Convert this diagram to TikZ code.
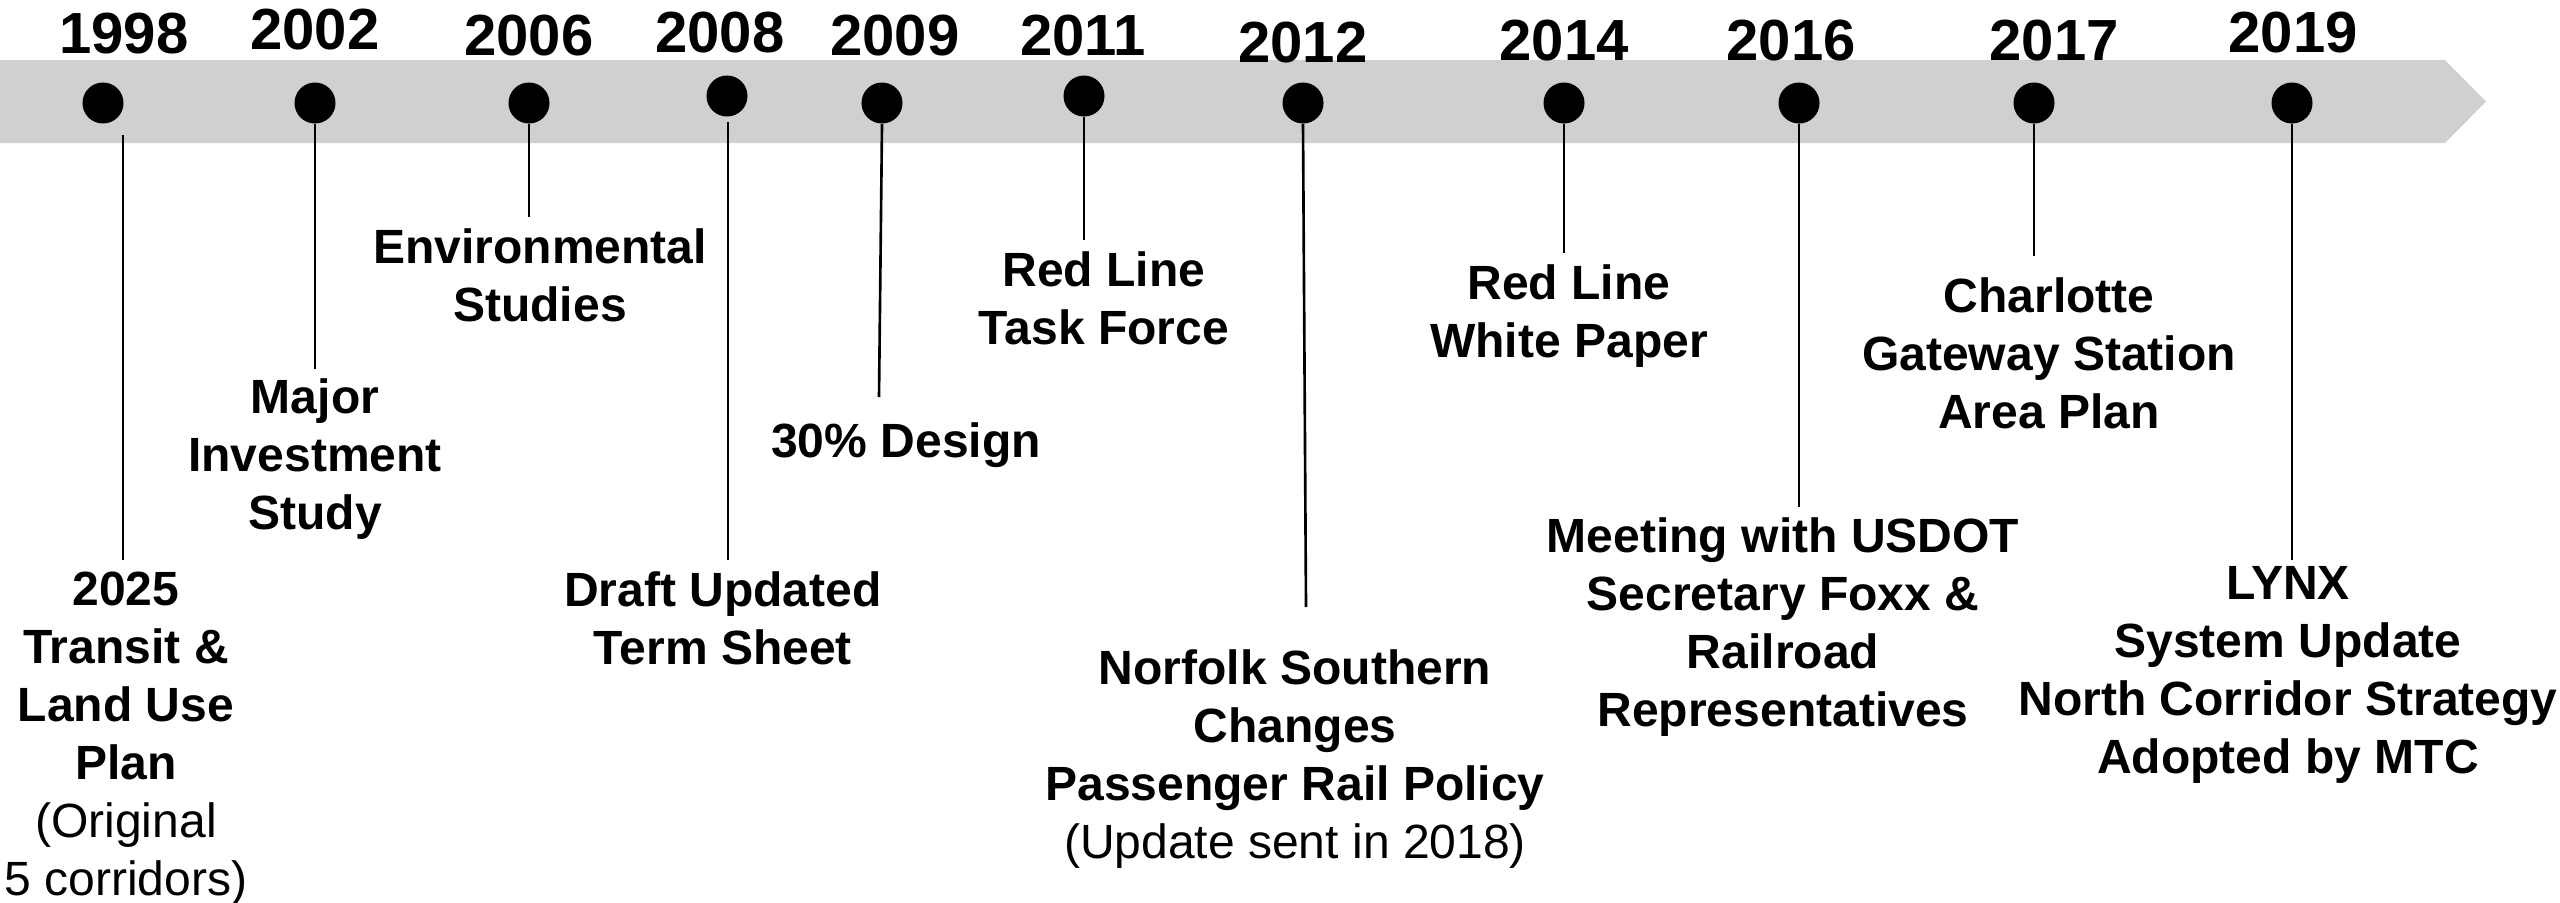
\documentclass[tikz,border=0pt]{standalone}
\usepackage{fontspec}
\setmainfont{Liberation Sans}
\definecolor{bandgray}{RGB}{208,208,208}
\begin{document}
\begin{tikzpicture}[x=0.01cm, y=-0.01cm,
  band/.style={fill=bandgray, draw=none},
  dot/.style={circle, fill=black, inner sep=0pt, minimum size=0.41cm},
  year/.style={inner sep=0pt, font=\fontsize{16.5}{19}\selectfont\bfseries},
  event/.style={inner sep=0pt, anchor=north, align=center,
    font=\fontsize{13.66}{16.5}\selectfont\bfseries},
  stem/.style={line width=0.75pt, black}]

\useasboundingbox (0,0) rectangle (2560,902);

% arrow-shaped time band
\fill[band] (0,60) -- (2445,60) -- (2486,101.5) -- (2445,143) -- (0,143) -- cycle;

% years
\node[year] (y1998) at (124,34) {1998};
\node[year] (y2002) at (315,30) {2002};
\node[year] (y2006) at (529,36) {2006};
\node[year] (y2008) at (720,33) {2008};
\node[year] (y2009) at (895,36) {2009};
\node[year] (y2011) at (1083,36) {2011};
\node[year] (y2012) at (1303,43) {2012};
\node[year] (y2014) at (1564,41) {2014};
\node[year] (y2016) at (1791,41) {2016};
\node[year] (y2017) at (2054,41) {2017};
\node[year] (y2019) at (2293,33) {2019};

% milestone dots
\node[dot] (d1998) at (103,103) {};
\node[dot] (d2002) at (315,103) {};
\node[dot] (d2006) at (529,103) {};
\node[dot] (d2008) at (727,96) {};
\node[dot] (d2009) at (882,103) {};
\node[dot] (d2011) at (1084,96) {};
\node[dot] (d2012) at (1303,103) {};
\node[dot] (d2014) at (1564,103) {};
\node[dot] (d2016) at (1799,103) {};
\node[dot] (d2017) at (2034,103) {};
\node[dot] (d2019) at (2292,103) {};

% event descriptions
\node[event] (e1998) at (126,571) {2025\\Transit \&\\Land Use\\Plan\\\textnormal{(Original}\\\textnormal{5 corridors)}};
\node[event] (e2002) at (315,378) {Major\\Investment\\Study};
\node[event] (e2006) at (540,228) {Environmental\\Studies};
\node[event] (e2008) at (723,571) {Draft Updated\\Term Sheet};
\node[event] (e2009) at (906,422) {30\% Design};
\node[event] (e2011) at (1104,251) {Red Line\\Task Force};
\node[event] (e2012) at (1295,649) {Norfolk Southern\\Changes\\Passenger Rail Policy\\\textnormal{(Update sent in 2018)}};
\node[event] (e2014) at (1569,264) {Red Line\\White Paper};
\node[event] (e2016) at (1783,517) {Meeting with USDOT\\Secretary Foxx \&\\Railroad\\Representatives};
\node[event] (e2017) at (2049,277) {Charlotte\\Gateway Station\\Area Plan};
\node[event] (e2019) at (2288,566) {LYNX\\System Update\\North Corridor Strategy\\Adopted by MTC};

% free ends of the stems
\coordinate (s1998) at (123,135);
\coordinate (t1998) at (123,560);
\coordinate (s2008) at (728,122);
\coordinate (t2008) at (728,560);
\coordinate (t2002) at (315,369);
\coordinate (t2006) at (529,217);
\coordinate (t2009) at (879,397);
\coordinate (t2011) at (1084,240);
\coordinate (t2012) at (1306,607);
\coordinate (t2014) at (1564,253);
\coordinate (t2016) at (1799,507);
\coordinate (t2017) at (2034,256);
\coordinate (t2019) at (2292,560);

% stems
\draw[stem] (s1998) -- (t1998);
\draw[stem] (d2002.south) -- (t2002);
\draw[stem] (d2006.south) -- (t2006);
\draw[stem] (s2008) -- (t2008);
\draw[stem] (d2009.south) -- (t2009);
\draw[stem] (d2011.south) -- (t2011);
\draw[stem] (d2012.south) -- (t2012);
\draw[stem] (d2014.south) -- (t2014);
\draw[stem] (d2016.south) -- (t2016);
\draw[stem] (d2017.south) -- (t2017);
\draw[stem] (d2019.south) -- (t2019);
\end{tikzpicture}
\end{document}
